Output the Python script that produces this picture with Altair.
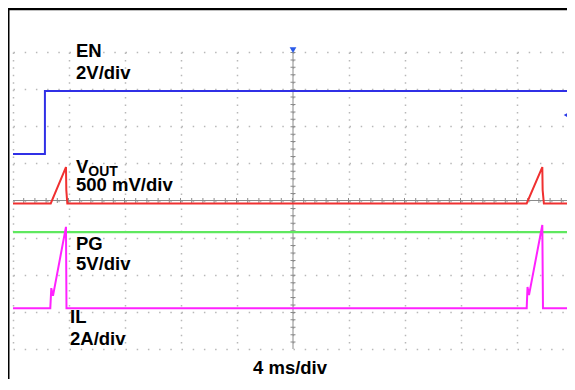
import altair as alt
import pandas as pd

# Oscilloscope screen: 10 horizontal divisions (4 ms/div), 8 vertical divisions
en_x = [0.0, 0.57, 0.57, 10.0]
en_y = [5.25, 5.25, 6.95, 6.95]

vout_x = [0.0, 0.674, 0.946, 0.952, 0.970, 9.173, 9.452, 9.458, 9.480, 10.0]
vout_y = [3.92, 3.92, 4.90, 4.28, 3.92, 3.92, 4.90, 4.28, 3.92, 3.92]

pg_x = [0.0, 10.0]
pg_y = [3.15, 3.15]

il_x = [0.0, 0.666, 0.684, 0.714, 0.946, 0.955, 9.173, 9.188, 9.214, 9.452, 9.464, 10.0]
il_y = [1.10, 1.10, 1.64, 1.43, 3.29, 1.10, 1.10, 1.67, 1.45, 3.34, 1.10, 1.10]

labels = ["EN", "2V/div", "V", "500 mV/div", "PG", "5V/div", "IL", "2A/div", "4 ms/div"]
label_x = [1.125, 1.125, 1.125, 1.125, 1.125, 1.125, 1.018, 1.018, 4.286]
label_y = [7.865, 7.27, 4.74, 4.256, 2.667, 2.128, 0.70, 0.108, -0.67]

sub_label = ["OUT"]
sub_x = [1.345]
sub_y = [4.673]

trig_x = [5.0]
trig_y = [8.05]
lvl_x = [9.88]
lvl_y = [6.30]

W, H = 560, 297


def frame(xs, ys):
    return pd.DataFrame({"x": xs, "y": ys, "o": list(range(len(xs)))})


xs = alt.Scale(domain=[0, 10], nice=False, zero=False)
ys = alt.Scale(domain=[0, 8], nice=False, zero=False)
ax_x = alt.Axis(values=list(range(11)), grid=True, labels=False, ticks=False,
                domain=False, title=None, gridColor="#b8b8b8", gridWidth=1.5,
                gridDash=[1.5, 5.925])
ax_y = alt.Axis(values=list(range(9)), grid=True, labels=False, ticks=False,
                domain=False, title=None, gridColor="#b8b8b8", gridWidth=1.5,
                gridDash=[1.5, 9.7])
X = alt.X("x:Q", scale=xs, axis=ax_x)
Y = alt.Y("y:Q", scale=ys, axis=ax_y)


def trace(xv, yv, color, w=2):
    return alt.Chart(frame(xv, yv)).mark_line(color=color, strokeWidth=w).encode(
        x=X, y=Y, order="o:Q")


center = pd.DataFrame({"x": [5.0], "y": [4.0]})
cv = alt.Chart(center).mark_rule(color="#8a8a8a", strokeWidth=1).encode(x=X)
ch = alt.Chart(center).mark_rule(color="#8a8a8a", strokeWidth=1).encode(y=Y)
cv_t = alt.Chart(center).mark_rule(color="#8a8a8a", strokeWidth=5,
                                  strokeDash=[1, 6.425]).encode(x=X)
ch_t = alt.Chart(center).mark_rule(color="#8a8a8a", strokeWidth=5,
                                  strokeDash=[1, 10.2]).encode(y=Y)

border_top = alt.Chart(center).mark_rule(color="black", strokeWidth=2.5).encode(
    x=alt.value(-5), x2=alt.value(W + 2), y=alt.value(-43))
border_left = alt.Chart(center).mark_rule(color="black", strokeWidth=3).encode(
    x=alt.value(-5), y=alt.value(-44), y2=alt.value(H + 30))

lab = alt.Chart(pd.DataFrame({"x": label_x, "y": label_y, "t": labels})).mark_text(
    align="left", baseline="alphabetic", font="Liberation Sans", fontWeight="bold",
    fontSize=18.5, color="black").encode(x=X, y=Y, text="t:N")
sub = alt.Chart(pd.DataFrame({"x": sub_x, "y": sub_y, "t": sub_label})).mark_text(
    align="left", baseline="alphabetic", font="Liberation Sans", fontWeight="bold",
    fontSize=14, color="black").encode(x=X, y=Y, text="t:N")

trig = alt.Chart(frame(trig_x, trig_y)).mark_point(
    shape="triangle-down", filled=True, size=45, color="#2a5ae8", opacity=1).encode(x=X, y=Y)
lvl = alt.Chart(frame(lvl_x, lvl_y)).mark_point(
    shape="triangle-left", filled=True, size=35, color="#2a3ae8", opacity=1).encode(x=X, y=Y)

chart = alt.layer(
    ch, cv, ch_t, cv_t,
    trace(pg_x, pg_y, "#5fe85f", 2.2),
    trace(il_x, il_y, "#ff22ff", 2),
    trace(vout_x, vout_y, "#f03030", 2),
    trace(en_x, en_y, "#3030e6", 2),
    trig, lvl, lab, sub, border_top, border_left,
).properties(
    width=W, height=H,
    autosize=alt.AutoSizeParams(type="none"),
    padding={"left": 5, "top": 44, "right": -6, "bottom": 30},
).configure_view(stroke=None)

chart.save("out.html", embed_options={"renderer": "svg", "actions": False})
